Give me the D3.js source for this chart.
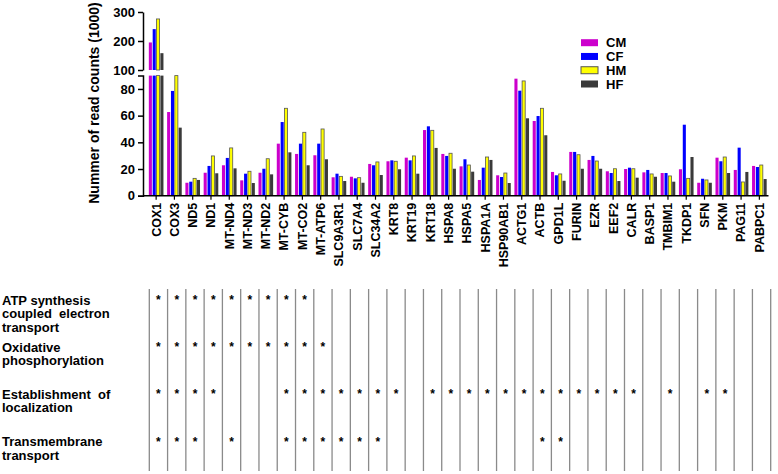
<!DOCTYPE html>
<html>
<head>
<meta charset="utf-8">
<script src="https://cdn.jsdelivr.net/npm/d3@7"></script>
<style>
  body { margin: 0; background: #fff; }
  svg { display: block; font-family: Arial, "Liberation Sans", sans-serif; }
  text { font-weight: bold; fill: #000; }
</style>
</head>
<body>
<svg id="chart" width="778" height="474"></svg>
<script>
// genes shown on the x axis
const genes = ['COX1', 'COX3', 'ND5', 'ND1', 'MT-ND4', 'MT-ND3', 'MT-ND2', 'MT-CYB', 'MT-CO2', 'MT-ATP6',
  'SLC9A3R1', 'SLC7A4', 'SLC34A2', 'KRT8', 'KRT19', 'KRT18', 'HSPA8', 'HSPA5', 'HSPA1A', 'HSP90AB1',
  'ACTG1', 'ACTB', 'GPD1L', 'FURIN', 'EZR', 'EEF2', 'CALR', 'BASP1', 'TMBIM1', 'TKDP1',
  'SFN', 'PKM', 'PAG11', 'PABPC1'];

const series = ['CM', 'CF', 'HM', 'HF'];
const colors = ['#cc00cc', '#0000ff', '#ffff00', '#3a3a3a'];

// read counts (x1000), one array per series
const CM = [195, 62.7, 9.7, 17.2, 22.8, 11.5, 17.2, 39, 31.3, 30.3,
  13.8, 14.2, 23.8, 25.8, 28.5, 49.2, 31.3, 22, 11.8, 15.3,
  87.7, 56, 17.8, 32.8, 26.8, 18.3, 20, 17.5, 17, 19.8,
  9.7, 28.5, 19.3, 22.3];
const CF = [241, 78.5, 10.5, 22.3, 28.3, 16.5, 20.2, 55.2, 39, 39,
  16.5, 13, 22.8, 26.5, 26.5, 52, 29.8, 27.3, 21, 14,
  78.7, 59.7, 15.3, 32.8, 29.8, 17, 21, 19.3, 17, 53.2,
  12.7, 25.8, 36, 21.5];
const HM = [276, 93, 13, 29.8, 35.8, 18.3, 27.7, 65.5, 47.5, 50,
  14.5, 13.5, 25.3, 25.8, 29.8, 49, 31.8, 23, 29, 17,
  86, 65.5, 16.3, 30.7, 26, 20.2, 20.2, 16.3, 14.8, 13,
  11.8, 29, 10.3, 23];
const HF = [158, 51, 11.8, 16.8, 20.5, 9.5, 16, 32.5, 22.8, 27.3,
  11, 9.7, 15.5, 19.8, 16.5, 35.8, 20.2, 18, 26.8, 9.5,
  58, 45.3, 11.2, 20.2, 20.2, 11, 13.5, 14.2, 10.5, 29,
  9.7, 17, 17.8, 12.5];
const values = [CM, CF, HM, HF];

const lowTicks = [0, 20, 40, 60, 80];
const highTicks = [100, 200, 300];

// GO terms table below the chart: label lines and gene indexes that carry a star
const terms = [
  ['ATP synthesis', 'coupled  electron', 'transport'],
  ['Oxidative', 'phosphorylation'],
  ['Establishment  of', 'localization'],
  ['Transmembrane', 'transport']
];
const termGenes = [
  [0, 1, 2, 3, 4, 5, 6, 7, 8],
  [0, 1, 2, 3, 4, 5, 6, 7, 8, 9],
  [0, 1, 2, 3, 7, 8, 9, 10, 11, 12, 13, 15, 16, 17, 18, 19, 20, 21, 22, 23, 24, 25, 26, 28, 30, 31],
  [0, 1, 2, 4, 7, 8, 9, 10, 11, 12, 21, 22]
];

const svg = d3.select('#chart');
const axisX = 143;

const x = d3.scaleBand().domain(genes).range([147, 768.5]).paddingInner(0.2).paddingOuter(0.1);
const xs = d3.scaleBand().domain(series).range([0, x.bandwidth()]).paddingInner(0.2);
const yLow = d3.scaleLinear().domain([0, 90]).range([195.7, 75.6]);
const yHigh = d3.scaleLinear().domain([100, 300]).range([70, 12]);

const bars = [];
genes.forEach((g, i) => series.forEach((s, j) => bars.push({gene: g, s: s, j: j, v: values[j][i]})));

const gBars = svg.append('g');
gBars.selectAll('rect.low')
  .data(bars)
  .join('rect')
  .attr('class', 'low')
  .attr('x', d => x(d.gene) + xs(d.s))
  .attr('width', xs.bandwidth())
  .attr('y', d => yLow(Math.min(d.v, 90)))
  .attr('height', d => yLow(0) - yLow(Math.min(d.v, 90)))
  .attr('fill', d => colors[d.j])
  .attr('stroke', d => d.s === 'HM' ? '#555' : 'none')
  .attr('stroke-width', 0.8);

gBars.selectAll('rect.high')
  .data(bars.filter(d => d.v > 100))
  .join('rect')
  .attr('class', 'high')
  .attr('x', d => x(d.gene) + xs(d.s))
  .attr('width', xs.bandwidth())
  .attr('y', d => yHigh(d.v))
  .attr('height', d => yHigh(100) - yHigh(d.v))
  .attr('fill', d => colors[d.j])
  .attr('stroke', d => d.s === 'HM' ? '#555' : 'none')
  .attr('stroke-width', 0.8);

// y axes (broken)
const styleAxis = g => {
  g.selectAll('path, line').attr('stroke', '#000').attr('stroke-width', 1.5);
  g.selectAll('text').attr('font-size', 13).attr('font-weight', 'bold').attr('font-family', 'Arial, "Liberation Sans", sans-serif');
};
svg.append('g')
  .attr('transform', `translate(${axisX},0)`)
  .call(d3.axisLeft(yLow).tickValues(lowTicks).tickSize(5).tickSizeOuter(5).tickPadding(3))
  .call(styleAxis);
svg.append('g')
  .attr('transform', `translate(${axisX},0)`)
  .call(d3.axisLeft(yHigh).tickValues(highTicks).tickSize(5).tickSizeOuter(0).tickPadding(3))
  .call(styleAxis);

// x axis
const gx = svg.append('g')
  .attr('transform', `translate(0,${yLow(0)})`)
  .call(d3.axisBottom(x).tickSize(4).tickSizeOuter(0));
gx.select('.domain').remove();
gx.append('line')
  .attr('x1', axisX).attr('x2', x.range()[1])
  .attr('stroke', '#000').attr('stroke-width', 1.5);
gx.selectAll('.tick line').attr('stroke', '#000').attr('stroke-width', 1.2);
gx.selectAll('.tick text')
  .attr('transform', 'rotate(-90)')
  .attr('x', -7)
  .attr('y', 0)
  .attr('dy', '0.35em')
  .attr('text-anchor', 'end')
  .attr('font-size', 12.5)
  .attr('font-weight', 'bold')
  .attr('font-family', 'Arial, "Liberation Sans", sans-serif');

// y label
svg.append('text')
  .attr('transform', 'translate(99,103) rotate(-90)')
  .attr('text-anchor', 'middle')
  .attr('font-size', 14)
  .text('Nummer of read counts (1000)');

// legend
const legendY = d3.scalePoint().domain(series).range([42.7, 84]);
const lg = svg.append('g').selectAll('g')
  .data(series)
  .join('g')
  .attr('transform', d => `translate(581,${legendY(d)})`);
lg.append('rect')
  .attr('x', 0).attr('y', -3.5)
  .attr('width', 17).attr('height', 7)
  .attr('fill', (d, i) => colors[i])
  .attr('stroke', d => d === 'HM' ? '#555' : 'none');
lg.append('text')
  .attr('x', 25).attr('dy', '0.36em')
  .attr('font-size', 13)
  .text(d => d);

// table of GO terms
const tx = d3.scaleBand().domain(genes).range([149.3, 770.7]);
const ty = d3.scalePoint().domain(d3.range(terms.length)).range([297, 438.5]);
const table = svg.append('g');
table.selectAll('line')
  .data(genes.concat(['end']))
  .join('line')
  .attr('x1', (d, i) => tx.range()[0] + i * tx.step())
  .attr('x2', (d, i) => tx.range()[0] + i * tx.step())
  .attr('y1', 289)
  .attr('y2', 471)
  .attr('stroke', '#8a8a8a')
  .attr('stroke-width', 1.3);

terms.forEach((lines, r) => {
  table.append('text')
    .attr('font-size', 13)
    .attr('xml:space', 'preserve')
    .selectAll('tspan')
    .data(lines)
    .join('tspan')
    .attr('x', 2)
    .attr('y', (d, k) => ty(r) + 7.5 + k * 13.5)
    .text(d => d);
  table.selectAll(`text.star${r}`)
    .data(termGenes[r])
    .join('text')
    .attr('class', `star${r}`)
    .attr('x', i => tx(genes[i]) + tx.bandwidth() / 2)
    .attr('y', ty(r) + 7)
    .attr('text-anchor', 'middle')
    .attr('font-size', 12)
    .text('*');
});
</script>
</body>
</html>
